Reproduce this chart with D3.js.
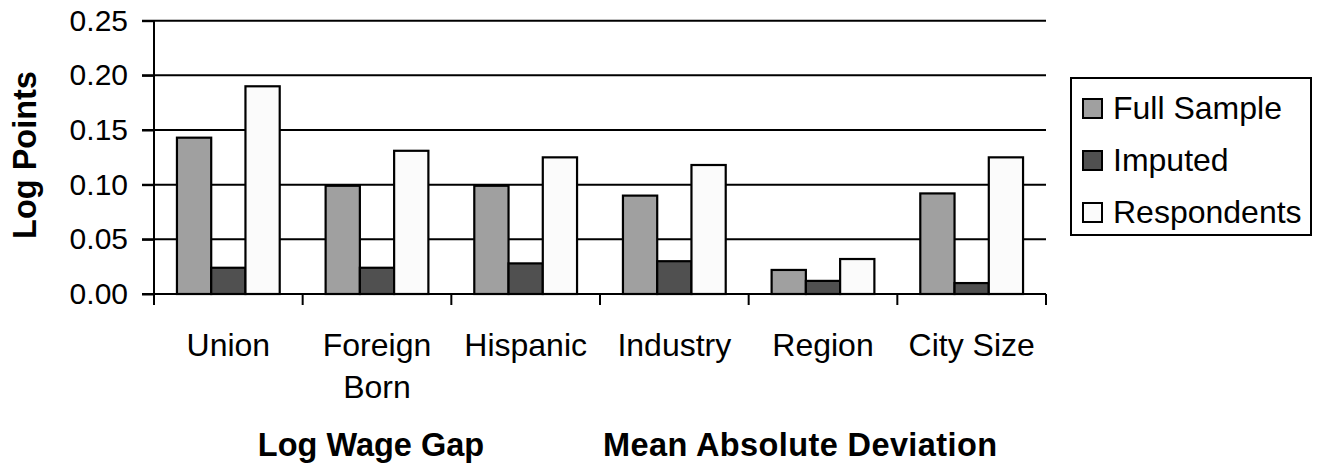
<!DOCTYPE html>
<html><head><meta charset="utf-8">
<script src="https://cdn.jsdelivr.net/npm/d3@7/dist/d3.min.js"></script>
<style>body{margin:0;background:#fff}svg{display:block}text{font-family:"Liberation Sans",Arial,sans-serif}</style>
</head><body><svg id="c" width="1323" height="466"></svg>
<script>
const categories = ["Union", "Foreign Born", "Hispanic", "Industry", "Region", "City Size"];
const seriesNames = ["Full Sample", "Imputed", "Respondents"];
const fullSample = [0.143, 0.099, 0.099, 0.090, 0.022, 0.092];
const imputed = [0.024, 0.024, 0.028, 0.030, 0.012, 0.010];
const respondents = [0.190, 0.131, 0.125, 0.118, 0.032, 0.125];
const yTicks = [0, 0.05, 0.10, 0.15, 0.20, 0.25];
const yTickLabels = ["0.00", "0.05", "0.10", "0.15", "0.20", "0.25"];
const colors = ["#a0a0a0", "#505050", "#fbfbfb"];

const svg = d3.select("#c");
const L = 154, R = 1046, T = 20.7, B = 294;
const x = d3.scaleBand().domain(categories).range([L, R]).paddingInner(0).paddingOuter(0);
const inner = d3.scaleBand().domain(seriesNames).range([0, x.bandwidth()]).paddingInner(0).paddingOuter(0.67);
const y = d3.scaleLinear().domain([0, 0.25]).range([B, T]);

// gridlines
svg.append("g").selectAll("line").data(yTicks.slice(1)).join("line")
  .attr("x1", L - 12).attr("x2", R).attr("y1", d => y(d)).attr("y2", d => y(d))
  .attr("stroke", "#000").attr("stroke-width", 2);

// bars
const data = [fullSample, imputed, respondents];
const g = svg.append("g");
categories.forEach((c, i) => {
  seriesNames.forEach((s, j) => {
    g.append("rect")
      .attr("x", x(c) + inner(s))
      .attr("y", y(data[j][i]))
      .attr("width", inner.bandwidth())
      .attr("height", y(0) - y(data[j][i]))
      .attr("fill", colors[j]).attr("stroke", "#000").attr("stroke-width", 2.2);
  });
});

// y axis
const yAxis = d3.axisLeft(y).tickValues(yTicks).tickSize(12).tickFormat((d, i) => yTickLabels[i]);
const ya = svg.append("g").attr("transform", `translate(${L},0)`).call(yAxis);
ya.select(".domain").remove();
ya.selectAll(".tick line").attr("stroke", "#000").attr("stroke-width", 2);
ya.selectAll(".tick text").attr("font-size", 30).attr("x", -26).attr("fill", "#000")
  .attr("font-family", "'Liberation Sans', Arial, sans-serif");
svg.append("line").attr("x1", L).attr("x2", L).attr("y1", T).attr("y2", B + 11)
  .attr("stroke", "#000").attr("stroke-width", 2);

// x axis
svg.append("line").attr("x1", L - 12).attr("x2", R).attr("y1", B).attr("y2", B)
  .attr("stroke", "#000").attr("stroke-width", 2);
const bounds = categories.map(c => x(c)).concat([R]);
svg.append("g").selectAll("line").data(bounds.slice(1)).join("line")
  .attr("x1", d => d).attr("x2", d => d).attr("y1", B).attr("y2", B + 11)
  .attr("stroke", "#000").attr("stroke-width", 2);

// category labels
categories.forEach(c => {
  const words = c === "Foreign Born" ? ["Foreign", "Born"] : [c];
  const t = svg.append("text").attr("text-anchor", "middle").attr("font-size", 32)
    .attr("x", x(c) + x.bandwidth() / 2).attr("y", 356);
  words.forEach((w, k) => t.append("tspan").attr("x", x(c) + x.bandwidth() / 2).attr("dy", k ? 42 : 0).text(w));
});

// y title
svg.append("text").attr("transform", "translate(36,155) rotate(-90)").attr("text-anchor", "middle")
  .attr("font-size", 32.5).attr("font-weight", "bold").text("Log Points");

// bottom titles
svg.append("text").attr("x", 371).attr("y", 456).attr("text-anchor", "middle")
  .attr("font-size", 32.5).attr("font-weight", "bold").text("Log Wage Gap");
svg.append("text").attr("x", 800).attr("y", 456).attr("text-anchor", "middle")
  .attr("font-size", 32.5).attr("font-weight", "bold").attr("textLength", 394).text("Mean Absolute Deviation");

// legend
const lg = svg.append("g");
lg.append("rect").attr("x", 1071).attr("y", 78).attr("width", 240).attr("height", 157)
  .attr("fill", "#fff").attr("stroke", "#000").attr("stroke-width", 2);
seriesNames.forEach((s, j) => {
  const cy = 108 + j * 52;
  lg.append("rect").attr("x", 1083).attr("y", cy - 9).attr("width", 19).attr("height", 19)
    .attr("fill", colors[j]).attr("stroke", "#000").attr("stroke-width", 2);
  lg.append("text").attr("x", 1113).attr("y", cy + 11).attr("font-size", 32).text(s);
});
</script></body></html>
